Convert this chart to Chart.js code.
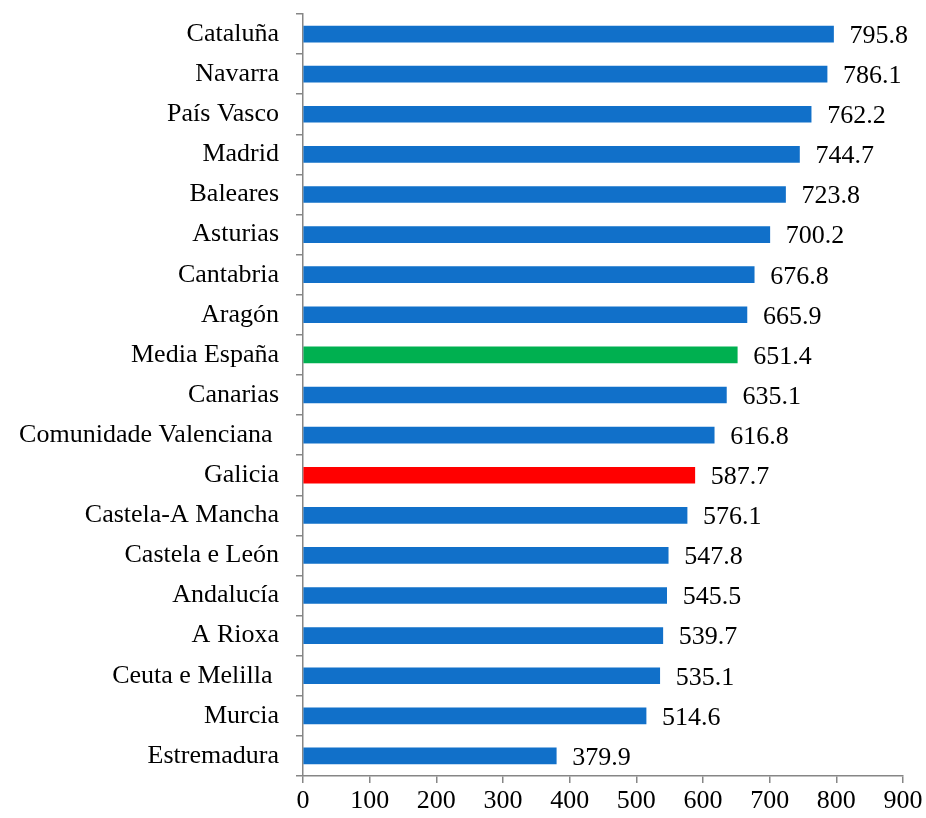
<!DOCTYPE html>
<html>
<head>
<meta charset="utf-8">
<script src="https://cdn.jsdelivr.net/npm/chart.js@4/dist/chart.umd.min.js"></script>
<style>
  html, body { margin: 0; padding: 0; background: #fff; }
  #wrap { width: 926px; height: 818px; position: relative; }
</style>
</head>
<body>
<div id="wrap"><canvas id="chart"></canvas></div>
<script>
var regions = ['Cataluña', 'Navarra', 'País Vasco', 'Madrid', 'Baleares', 'Asturias',
  'Cantabria', 'Aragón', 'Media España', 'Canarias', 'Comunidade Valenciana ', 'Galicia',
  'Castela-A Mancha', 'Castela e León', 'Andalucía', 'A Rioxa', 'Ceuta e Melilla ',
  'Murcia', 'Estremadura'];
var values = [795.8, 786.1, 762.2, 744.7, 723.8, 700.2, 676.8, 665.9, 651.4, 635.1,
  616.8, 587.7, 576.1, 547.8, 545.5, 539.7, 535.1, 514.6, 379.9];
var xTicks = [0, 100, 200, 300, 400, 500, 600, 700, 800, 900];

var colors = regions.map(function(r) {
  if (r == 'Media España') return '#00B050';
  if (r == 'Galicia') return '#FF0000';
  return '#1170C9';
});

var fontFamily = '"Liberation Serif", "Times New Roman", serif';

// write the value right of each bar
var valueLabels = {
  id: 'valueLabels',
  afterDatasetsDraw: function(chart) {
    var ctx = chart.ctx;
    var meta = chart.getDatasetMeta(0);
    ctx.save();
    ctx.font = '26px ' + fontFamily;
    ctx.fillStyle = '#000';
    ctx.textAlign = 'left';
    ctx.textBaseline = 'middle';
    meta.data.forEach(function(bar, i) {
      ctx.fillText(values[i].toFixed(1), bar.x + 16, bar.y + 2);
    });
    ctx.restore();
  }
};

var ctx = document.getElementById('chart').getContext('2d');
var myChart = new Chart(ctx, {
  type: 'bar',
  data: {
    labels: regions,
    datasets: [{
      data: values,
      backgroundColor: colors,
      barThickness: 16
    }]
  },
  options: {
    indexAxis: 'y',
    responsive: true,
    maintainAspectRatio: false,
    animation: false,
    layout: { padding: { top: 14, right: 23, left: 0, bottom: 0 } },
    plugins: {
      legend: { display: false },
      tooltip: { enabled: false }
    },
    scales: {
      x: {
        min: 0,
        max: 900,
        afterBuildTicks: function(scale) {
          scale.ticks = xTicks.map(function(v) { return { value: v }; });
        },
        afterFit: function(scale) {
          scale.height = 42;
          scale.paddingLeft = 0;
          scale.paddingRight = 0;
        },
        grid: {
          drawOnChartArea: false,
          tickLength: 7,
          color: '#868686',
          lineWidth: 1.5
        },
        border: { color: '#868686', width: 1.5 },
        ticks: {
          color: '#000',
          padding: 3,
          maxRotation: 0,
          font: { family: fontFamily, size: 26 }
        }
      },
      y: {
        afterFit: function(scale) {
          scale.width = 303;
          scale.paddingTop = 0;
          scale.paddingBottom = 0;
        },
        grid: {
          offset: true,
          drawOnChartArea: false,
          tickLength: 7,
          color: '#868686',
          lineWidth: 1.5
        },
        border: { color: '#868686', width: 1.5 },
        ticks: {
          color: '#000',
          padding: 17,
          autoSkip: false,
          font: { family: fontFamily, size: 26 }
        }
      }
    }
  },
  plugins: [valueLabels]
});
</script>
</body>
</html>
